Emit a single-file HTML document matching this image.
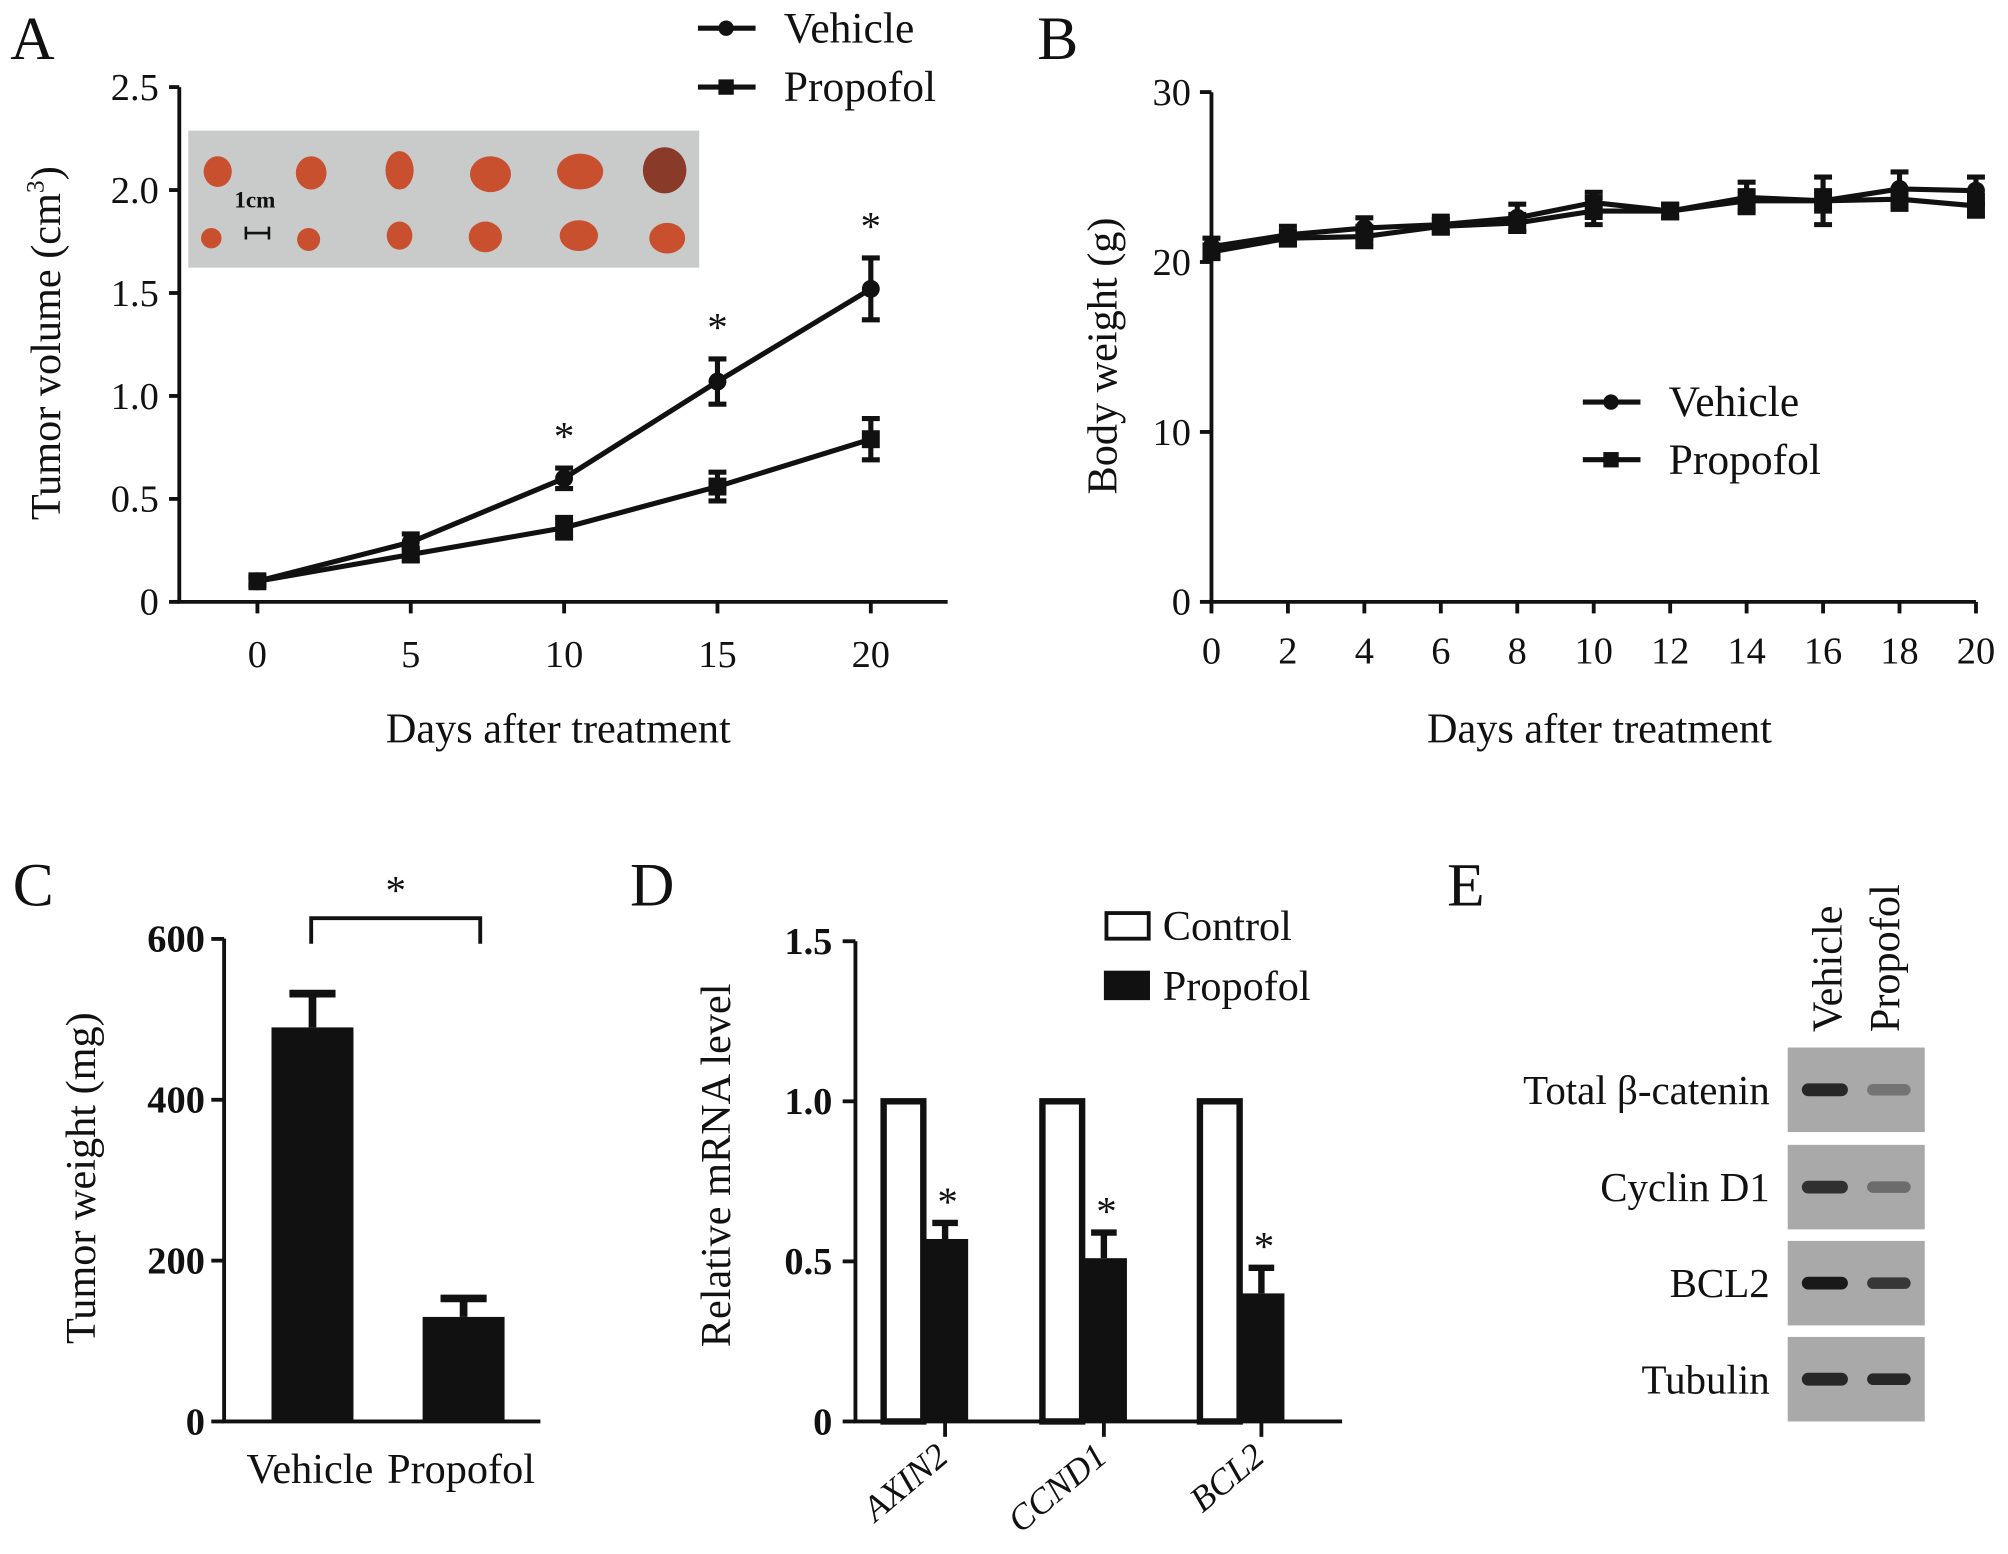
<!DOCTYPE html>
<html><head><meta charset="utf-8"><style>
html,body{margin:0;padding:0;background:#fff}
svg{display:block}
text{font-family:"Liberation Serif",serif;fill:#111}
.b{font-weight:bold}
</style></head><body>
<svg id="fig" width="2008" height="1554" viewBox="0 0 1568 1213.5" xmlns="http://www.w3.org/2000/svg">
<g id="A">
<text x="8" y="46" font-size="48">A</text>
<rect x="147" y="102" width="399" height="107" fill="#c9cbcb"/>
<g fill="#c8502e">
<ellipse cx="170" cy="134" rx="11" ry="12"/><ellipse cx="243" cy="135" rx="12" ry="13"/><ellipse cx="312" cy="133" rx="11" ry="15"/><ellipse cx="383" cy="136" rx="16" ry="14"/><ellipse cx="453" cy="134" rx="18" ry="14"/><ellipse cx="519" cy="133" rx="17" ry="18" fill="#8a3a28"/>
<ellipse cx="165" cy="186" rx="8" ry="8"/><ellipse cx="241" cy="187" rx="9" ry="9"/><ellipse cx="312" cy="184" rx="10" ry="11"/><ellipse cx="379" cy="185" rx="13" ry="12"/><ellipse cx="452" cy="184" rx="15" ry="12"/><ellipse cx="521" cy="186" rx="14" ry="12"/>
</g>
<text x="183" y="162" font-size="18" class="b">1cm</text>
<path d="M192 182H210M192 177V187M210 177V187" stroke="#111" stroke-width="2" fill="none"/>
<g id="Aax"></g>
<text transform="translate(47,268) rotate(-90)" text-anchor="middle" font-size="33">Tumor volume (cm<tspan font-size="20" dy="-13">3</tspan><tspan dy="13">)</tspan></text>
<text x="436" y="580" text-anchor="middle" font-size="33">Days after treatment</text>
<g>
<line x1="545" y1="22" x2="590" y2="22" stroke="#111" stroke-width="4"/><circle cx="567" cy="22" r="6" fill="#111"/>
<text x="612" y="33" font-size="34">Vehicle</text>
<line x1="545" y1="68" x2="590" y2="68" stroke="#111" stroke-width="4"/><rect x="561" y="62" width="12" height="12" fill="#111"/>
<text x="612" y="79" font-size="34">Propofol</text>
</g>
</g>
<g id="B">
<text x="810" y="46" font-size="48">B</text>
<g id="Bax"></g>
<text transform="translate(872,278) rotate(-90)" text-anchor="middle" font-size="33">Body weight (g)</text>
<text x="1249" y="580" text-anchor="middle" font-size="33">Days after treatment</text>
<g>
<line x1="1236" y1="314" x2="1281" y2="314" stroke="#111" stroke-width="4"/><circle cx="1258" cy="314" r="6" fill="#111"/>
<text x="1303" y="325" font-size="34">Vehicle</text>
<line x1="1236" y1="359" x2="1281" y2="359" stroke="#111" stroke-width="4"/><rect x="1252" y="353" width="12" height="12" fill="#111"/>
<text x="1303" y="370" font-size="34">Propofol</text>
</g>
</g>
<g id="C">
<text x="10" y="707" font-size="48">C</text>
<g id="Cax"></g>
<text transform="translate(74,920) rotate(-90)" text-anchor="middle" font-size="33">Tumor weight (mg)</text>
<path d="M243 737V717H375V737" stroke="#111" stroke-width="3" fill="none"/>
<text x="309" y="706" text-anchor="middle" font-size="32">*</text>
</g>
<g id="D">
<text x="492" y="707" font-size="48">D</text>
<g id="Dax"></g>
<text transform="translate(570,910) rotate(-90)" text-anchor="middle" font-size="33">Relative mRNA level</text>
<g>
<rect x="864" y="713" width="33" height="20" fill="#fff" stroke="#111" stroke-width="3"/>
<text x="908" y="734" font-size="33">Control</text>
<rect x="862" y="758" width="36" height="23" fill="#111"/>
<text x="908" y="781" font-size="33">Propofol</text>
</g>
</g>
<g id="E">
<text x="1130" y="707" font-size="48">E</text>
<text transform="translate(1438,806) rotate(-90)" font-size="33">Vehicle</text>
<text transform="translate(1483,806) rotate(-90)" font-size="33">Propofol</text>
<g id="Eblots"></g>
</g>
</svg>
<script>
const NS='http://www.w3.org/2000/svg';
function mk(p,tag,attrs,txt){const e=document.createElementNS(NS,tag);for(const k in attrs)e.setAttribute(k,attrs[k]);if(txt!==undefined)e.textContent=txt;p.appendChild(e);return e;}

// Panel A data
const daysA=[0,5,10,15,20];
const vehA=[0.10,0.29,0.60,1.07,1.52];
const vehAerr=[0.02,0.04,0.05,0.11,0.15];
const proA=[0.10,0.23,0.36,0.56,0.79];
const proAerr=[0.02,0.03,0.05,0.07,0.10];
const sigA=[10,15,20];
const ticksAy=["0","0.5","1.0","1.5","2.0","2.5"];
const tickValsAy=[0,0.5,1,1.5,2,2.5];

// Panel B data
const daysB=[0,2,4,6,8,10,12,14,16,18,20];
const vehB=[20.9,21.6,22.0,22.2,22.6,23.5,23.0,23.8,23.6,24.3,24.2];
const vehBerr=[0.5,0.5,0.6,0.5,0.8,0.6,0.4,0.9,1.4,1.0,0.8];
const proB=[20.6,21.4,21.5,22.1,22.3,23.0,23.0,23.6,23.6,23.7,23.3];
const proBerr=[0.4,0.4,0.6,0.4,0.5,0.8,0.4,0.6,0.6,0.6,0.6];
const tickValsBy=[0,10,20,30];

// Panel C data
const catC=["Vehicle","Propofol"];
const valC=[490,130];
const errC=[42,23];
const tickValsCy=[0,200,400,600];

// Panel D data
const catD=["AXIN2","CCND1","BCL2"];
const ctrlD=[1.0,1.0,1.0];
const propD=[0.57,0.51,0.40];
const propDerr=[0.05,0.08,0.08];
const ticksDy=["0","0.5","1.0","1.5"];
const tickValsDy=[0,0.5,1,1.5];

// Panel E data
const blotRows=["Total β-catenin","Cyclin D1","BCL2","Tubulin"];
const bandVeh=[0.85,0.8,0.95,0.85];
const bandPro=[0.35,0.4,0.75,0.85];

function lineChart(g,xs,series,xS,yS){
  series.forEach((s,si)=>{
    const pts=xs.map((x,i)=>xS(x)+','+yS(s.v[i])).join(' ');
    const pl=mk(g,'polyline',{points:pts,fill:'none',stroke:'#111','stroke-width':4});
    
    
    xs.forEach((x,i)=>{
      const cx=xS(x),top=yS(s.v[i]+s.e[i]),bot=yS(s.v[i]-s.e[i]);
      const eb=mk(g,'path',{d:`M${cx} ${top}V${bot}M${cx-7} ${top}H${cx+7}M${cx-7} ${bot}H${cx+7}`,stroke:'#111','stroke-width':4,fill:'none'});
      
      
      let m;
      if(si===0)m=mk(g,'circle',{cx:cx,cy:yS(s.v[i]),r:7,fill:'#111'});
      else m=mk(g,'rect',{x:cx-7,y:yS(s.v[i])-7,width:14,height:14,fill:'#111'});
      
      
    });
  });
}

// ---- A
(function(){
  const g=document.getElementById('Aax');
  const xS=d=>201+d*23.95, yS=v=>470-v*160.8;
  mk(g,'path',{d:'M140 68V470H740',stroke:'#111','stroke-width':3,fill:'none'});
  tickValsAy.forEach((v,i)=>{mk(g,'line',{x1:132,x2:140,y1:yS(v),y2:yS(v),stroke:'#111','stroke-width':3});
    const t=mk(g,'text',{x:124,y:yS(v)+10,'text-anchor':'end','font-size':30},ticksAy[i]);
    
    });
  daysA.forEach(d=>{mk(g,'line',{x1:xS(d),x2:xS(d),y1:470,y2:479,stroke:'#111','stroke-width':3});
    const t=mk(g,'text',{x:xS(d),y:521,'text-anchor':'middle','font-size':30},String(d));
    
    });
  lineChart(g,daysA,[{name:'vehicle',v:vehA,e:vehAerr},{name:'propofol',v:proA,e:proAerr}],xS,yS);
  sigA.forEach(d=>{const i=daysA.indexOf(d);
    const t=mk(g,'text',{x:xS(d),y:yS(vehA[i]+vehAerr[i])-14,'text-anchor':'middle','font-size':32},'*');
    
    });
})();

// ---- B
(function(){
  const g=document.getElementById('Bax');
  const xS=d=>946+d*29.85, yS=v=>470-v*13.27;
  mk(g,'path',{d:'M946 72V470H1543',stroke:'#111','stroke-width':3,fill:'none'});
  tickValsBy.forEach(v=>{mk(g,'line',{x1:937,x2:946,y1:yS(v),y2:yS(v),stroke:'#111','stroke-width':3});
    const t=mk(g,'text',{x:930,y:yS(v)+10,'text-anchor':'end','font-size':30},String(v));
    
    });
  daysB.forEach(d=>{mk(g,'line',{x1:xS(d),x2:xS(d),y1:470,y2:479,stroke:'#111','stroke-width':3});
    const t=mk(g,'text',{x:xS(d),y:518,'text-anchor':'middle','font-size':30},String(d));
    
    });
  lineChart(g,daysB,[{name:'vehicle-b',v:vehB,e:vehBerr},{name:'propofol-b',v:proB,e:proBerr}],xS,yS);
})();

// ---- C
(function(){
  const g=document.getElementById('Cax');
  const yS=v=>1110-v*0.628, cx=[244,362], bw=64;
  mk(g,'path',{d:'M175 733V1110H422',stroke:'#111','stroke-width':3,fill:'none'});
  tickValsCy.forEach(v=>{mk(g,'line',{x1:165,x2:175,y1:yS(v),y2:yS(v),stroke:'#111','stroke-width':3});
    const t=mk(g,'text',{x:160,y:yS(v)+10,'text-anchor':'end','font-size':30,'font-weight':'bold'},String(v));
    
    });
  catC.forEach((c,i)=>{
    const r=mk(g,'rect',{x:cx[i]-bw/2,y:yS(valC[i]),width:bw,height:yS(0)-yS(valC[i]),fill:'#111'});
    
    
    const eb=mk(g,'path',{d:`M${cx[i]} ${yS(valC[i])}V${yS(valC[i]+errC[i])}M${cx[i]-18} ${yS(valC[i]+errC[i])}H${cx[i]+18}`,stroke:'#111','stroke-width':6,fill:'none'});
    
    
    const t=mk(g,'text',{x:cx[i]-2,y:1158,'text-anchor':'middle','font-size':33},c);
    
    
  });
})();

// ---- D
(function(){
  const g=document.getElementById('Dax');
  const yS=v=>1110-v*250, gc=[738,862,985], bw=33;
  mk(g,'path',{d:'M668 735V1110H1048',stroke:'#111','stroke-width':3,fill:'none'});
  tickValsDy.forEach((v,i)=>{mk(g,'line',{x1:658,x2:668,y1:yS(v),y2:yS(v),stroke:'#111','stroke-width':3});
    const t=mk(g,'text',{x:650,y:yS(v)+10,'text-anchor':'end','font-size':30,'font-weight':'bold'},ticksDy[i]);
    
    });
  catD.forEach((c,i)=>{
    const x=gc[i];
    mk(g,'line',{x1:x,x2:x,y1:1110,y2:1122,stroke:'#111','stroke-width':3});
    const r1=mk(g,'rect',{x:x-bw-15,y:yS(ctrlD[i]),width:bw-2,height:yS(0)-yS(ctrlD[i]),fill:'#fff',stroke:'#111','stroke-width':5});
    
    
    const r2=mk(g,'rect',{x:x-17,y:yS(propD[i]),width:bw+2,height:yS(0)-yS(propD[i]),fill:'#111'});
    
    
    const top=yS(propD[i]+propDerr[i]);
    const eb=mk(g,'path',{d:`M${x} ${yS(propD[i])}V${top}M${x-10} ${top}H${x+10}`,stroke:'#111','stroke-width':5,fill:'none'});
    
    
    const s=mk(g,'text',{x:x+2,y:top-6,'text-anchor':'middle','font-size':32},'*');
    
    
    const t=mk(g,'text',{transform:`translate(${x+4},1140) rotate(-40)`,'text-anchor':'end','font-size':28,'font-style':'italic'},c);
    
    
  });
})();

// ---- E
(function(){
  const g=document.getElementById('Eblots');
  const ys=[818,894,969,1044], h=66;
  blotRows.forEach((r,i)=>{
    const y=ys[i];
    const b=mk(g,'rect',{x:1396,y:y,width:107,height:h,fill:'#a9a9a9'});
    
    
    const bv=mk(g,'rect',{x:1407,y:y+h/2-5,width:36,height:10,rx:5,fill:'#111','fill-opacity':bandVeh[i]});
    
    
    const bp=mk(g,'rect',{x:1458,y:y+h/2-4.5,width:34,height:9,rx:4.5,fill:'#111','fill-opacity':bandPro[i]});
    
    
    const t=mk(g,'text',{x:1382,y:y+h/2+11,'text-anchor':'end','font-size':32},r);
    
    
  });
})();
</script>
</body></html>
